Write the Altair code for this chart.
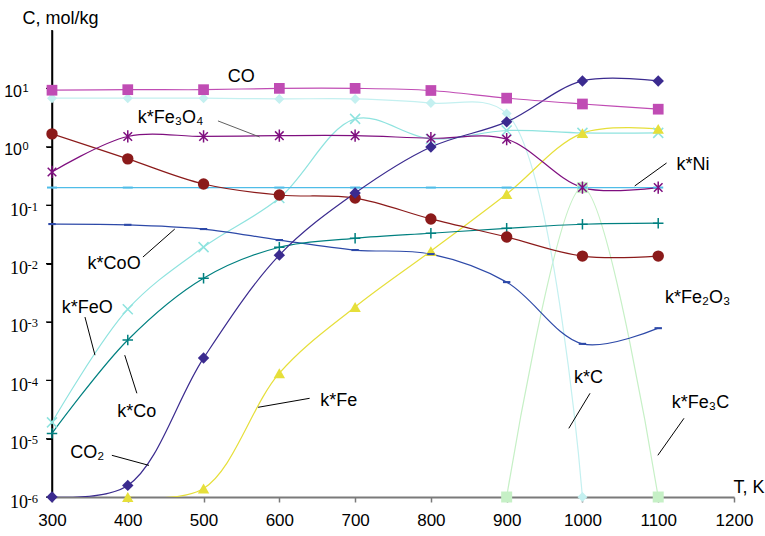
import altair as alt
import pandas as pd

# Temperatures, K
T = [300, 400, 500, 600, 700, 800, 900, 1000, 1100]
T_FE = [400, 500, 600, 700, 800, 900, 1000, 1100]
T_C = [300, 400, 500, 600, 700, 800, 900, 1000]
T_FE3C = [900, 1000, 1100]

# Equilibrium amounts, mol/kg
co = [9.3, 9.5, 9.5, 10.0, 10.0, 9.2, 6.8, 5.4, 4.4]
k_c = [6.8, 6.8, 6.8, 6.6, 6.6, 5.6, 3.7, 1e-6]
k_fe3o4 = [0.37, 1.5, 1.5, 1.55, 1.55, 1.4, 1.35, 0.2, 0.2]
k_fe2o3 = [1.66, 0.62, 0.23, 0.149, 0.132, 0.058, 0.0284, 0.0134, 0.0134]
k_ni = [0.2, 0.2, 0.2, 0.2, 0.2, 0.2, 0.2, 0.2, 0.2]
k_coo = [0.0474, 0.046, 0.0389, 0.0252, 0.017, 0.0145, 0.0048, 0.00042, 0.00078]
k_feo = [1.9e-5, 1.65e-3, 0.0191, 0.132, 3.0, 1.36, 1.9, 1.73, 1.73]
k_co = [1.23e-5, 4.9e-4, 5.6e-3, 0.019, 0.027, 0.033, 0.040, 0.047, 0.049]
co2 = [1e-6, 1.58e-6, 2.4e-4, 0.0139, 0.161, 0.99, 2.67, 13.4, 13.4]
k_fe = [1e-6, 1.4e-6, 1.32e-4, 1.8e-3, 0.0163, 0.155, 1.71, 2.02]
k_fe3c = [1e-6, 0.2, 1e-6]

# Series labels placed on the plot (left edge, vertical centre) in data units
label_text = ["CO", "k*Fe₃O₄", "k*Ni", "k*CoO", "k*FeO", "k*Co", "CO₂",
              "k*Fe", "k*C", "k*Fe₃C", "k*Fe₂O₃"]
label_T = [532, 413, 1124, 347, 313, 386, 324, 654, 989, 1118, 1109]
label_C = [15.7, 3.12, 0.488, 0.00977, 1.72e-3, 2.82e-5, 5.6e-6,
           4.36e-5, 1.08e-4, 4.04e-5, 2.55e-3]

# Leader lines from labels to curves
lead_T1 = [519, 1111, 462, 343.5, 396, 379, 640, 1010, 1134]
lead_C1 = [2.77, 0.527, 0.0389, 1.21e-3, 2.69e-4, 5.18e-6, 4.91e-5, 5.98e-5, 2.23e-5]
lead_T2 = [574, 1069, 420, 356.7, 412, 428, 572, 982, 1099.5]
lead_C2 = [1.47, 0.213, 0.0129, 2.69e-4, 5.98e-5, 3.48e-6, 3.44e-5, 1.50e-5, 5.18e-6]
lead_color = ["#606060", "black", "black", "black", "black", "black", "black", "black", "black"]

# Decade exponents for the y axis
exponents = [1, 0, -1, -2, -3, -4, -5, -6]
x_ticks = [300, 400, 500, 600, 700, 800, 900, 1000, 1100, 1200]

ASTERISK = "M-0.7,-0.7L0.7,0.7M-0.7,0.7L0.7,-0.7M0,-1L0,1"
CROSS_X = "M-1,-1L1,1M-1,1L1,-1"
PLUS = "M-1,0L1,0M0,-1L0,1"
DASH_WIDE = "M-1,-0.2L1,-0.2L1,0.2L-1,0.2Z"
DASH_SHORT = "M-1,-0.28L1,-0.28L1,0.28L-1,0.28Z"

# name, temperatures, values, colour, shape, size, filled
series = [
    ("k*Fe3C", T_FE3C, k_fe3c, "#C6F0C6", "square", 121, True),
    ("k*C", T_C, k_c, "#C4F0F0", "diamond", 100, True),
    ("k*FeO", T, k_feo, "#8FE3DF", CROSS_X, 100, False),
    ("k*Fe", T_FE, k_fe, "#E6DF3A", "triangle-up", 130, True),
    ("k*Ni", T, k_ni, "#4FBDE8", DASH_WIDE, 100, True),
    ("k*CoO", T, k_coo, "#2D49A8", DASH_SHORT, 55, True),
    ("k*Co", T, k_co, "#008080", PLUS, 110, False),
    ("k*Fe2O3", T, k_fe2o3, "#8B1A1A", "circle", 130, True),
    ("k*Fe3O4", T, k_fe3o4, "#7F0F7F", ASTERISK, 150, False),
    ("CO2", T, co2, "#3B2B8F", "diamond", 130, True),
    ("CO", T, co, "#C04CB4", "square", 115, True),
]

rows = []
for name, ts, vals, *_ in series:
    for t, v in zip(ts, vals):
        rows.append({"series": name, "T": t, "C": v})
df = pd.DataFrame(rows)

SANS = "Liberation Sans"
SERIF = "Liberation Serif"

x_scale = alt.Scale(domain=[300, 1200], nice=False, zero=False)
y_scale = alt.Scale(type="log", domain=[1e-6, 1e2], nice=False)

x_axis = alt.Axis(
    values=x_ticks, format="d", labelFlush=False, grid=False,
    labelFont=SANS, labelFontSize=17, labelColor="black", labelPadding=10,
    domain=True, domainColor="#7A7A7A", domainWidth=2,
    ticks=True, tickColor="#7A7A7A", tickSize=5, tickWidth=1.5,
    title="T, K", titleX=681, titleY=-5, titleAlign="left",
    titleBaseline="alphabetic", titleFont=SANS, titleFontSize=18,
    titleFontWeight="normal", titleColor="black",
)
# tick labels for y are drawn separately as 10 with a raised exponent
y_axis = alt.Axis(
    values=[10.0 ** e for e in exponents], labels=False, grid=False,
    domain=True, domainColor="#000000", domainWidth=1.5,
    ticks=True, tickColor="#000000", tickSize=6, tickWidth=1,
    title="C, mol/kg", titleX=-30, titleY=-7, titleAngle=0,
    titleAlign="left", titleBaseline="alphabetic", titleFont=SANS,
    titleFontSize=18, titleFontWeight="normal", titleColor="black",
)


def xy(xf, yf):
    return dict(x=alt.X(xf, scale=x_scale, axis=x_axis),
                y=alt.Y(yf, scale=y_scale, axis=y_axis))


# vertical axis line and decade ticks
y_line = alt.Chart(pd.DataFrame({"T": [300], "lo": [1e-6], "hi": [1e2]})).mark_rule(
    color="black", strokeWidth=1.5).encode(y2="hi:Q", **xy("T:Q", "lo:Q"))

exp_df = pd.DataFrame({
    "v": [10.0 ** e for e in exponents],
    "e": [str(e) for e in exponents],
    "ten": ["10"] * len(exponents),
    "neg": [e < 0 for e in exponents],
})
y_tick_marks = alt.Chart(exp_df).mark_rule(color="black", strokeWidth=1).encode(
    x=alt.value(-6), x2=alt.value(0), y=alt.Y("v:Q", scale=y_scale, axis=y_axis))

lines = alt.Chart(df).mark_line(interpolate="catmull-rom", strokeWidth=1.2,
                                clip=True).encode(
    color=alt.Color("series:N", legend=None,
                    scale=alt.Scale(domain=[s[0] for s in series],
                                    range=[s[3] for s in series])),
    **xy("T:Q", "C:Q"),
)

layers = [y_line, y_tick_marks, lines]
for name, ts, vals, color, shape, size, filled in series:
    pts = pd.DataFrame({"T": ts, "C": vals})
    if filled:
        mk = alt.Chart(pts).mark_point(shape=shape, size=size, filled=True,
                                       color=color, opacity=1)
    else:
        mk = alt.Chart(pts).mark_point(shape=shape, size=size, filled=False,
                                       color=color, strokeWidth=1.5, opacity=1)
    layers.append(mk.encode(**xy("T:Q", "C:Q")))

leaders = alt.Chart(pd.DataFrame({
    "T1": lead_T1, "C1": lead_C1, "T2": lead_T2, "C2": lead_C2, "col": lead_color,
})).mark_rule(strokeWidth=1).encode(
    x2="T2:Q", y2="C2:Q",
    color=alt.Color("col:N", scale=None),
    **xy("T1:Q", "C1:Q"),
)
layers.append(leaders)

labels = alt.Chart(pd.DataFrame({
    "T": label_T, "C": label_C, "text": label_text,
})).mark_text(align="left", baseline="middle", font=SANS, fontSize=18,
              color="black").encode(text="text:N", **xy("T:Q", "C:Q"))
layers.append(labels)

neg_df = exp_df[exp_df["neg"]]
pos_df = exp_df[~exp_df["neg"]]

for d, font, ten_size, sup_size, ten_x, sup_x, ten_dy, sup_dy in [
    (neg_df, SERIF, 18, 12.5, -24, -24.5, 10.5, 5.5),
    (pos_df, SANS, 16, 11, -30, -29.5, 8.5, 3.5),
]:
    layers.append(alt.Chart(d).mark_text(
        align="right", baseline="alphabetic", font=font, fontSize=ten_size,
        color="black", dy=ten_dy).encode(
        x=alt.value(ten_x), y=alt.Y("v:Q", scale=y_scale, axis=y_axis),
        text="ten:N"))
    layers.append(alt.Chart(d).mark_text(
        align="left", baseline="alphabetic", font=font, fontSize=sup_size,
        color="black", dy=sup_dy).encode(
        x=alt.value(sup_x), y=alt.Y("v:Q", scale=y_scale, axis=y_axis),
        text="e:N"))

chart = alt.layer(*layers).properties(
    width=682, height=467,
    padding={"left": 52, "top": 30, "right": 31, "bottom": 39},
    autosize=alt.AutoSizeParams(type="none"),
    background="white",
).configure_view(stroke=None)

chart.save("out.html", embed_options={"renderer": "svg", "actions": False})
